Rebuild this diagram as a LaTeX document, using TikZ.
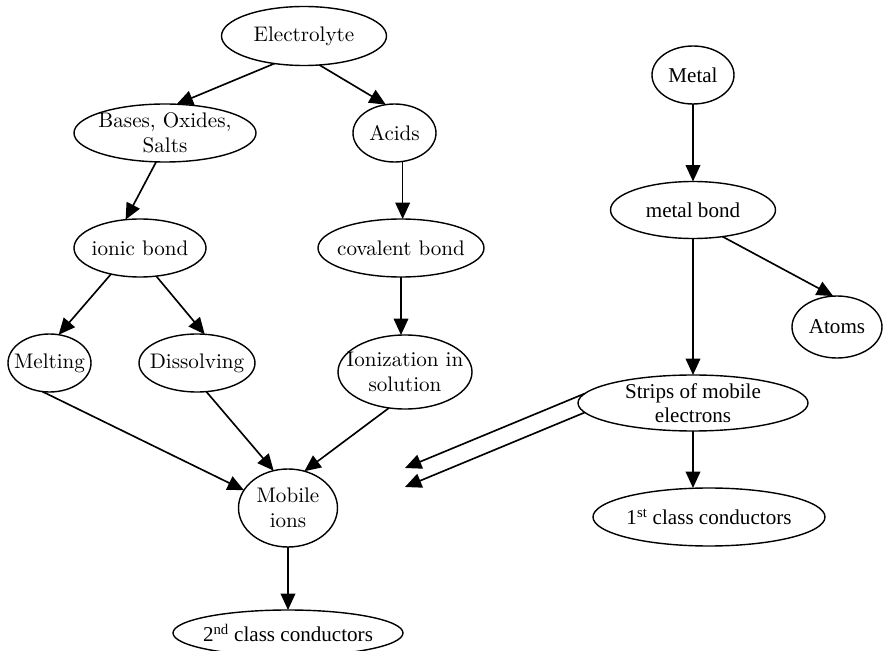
\documentclass[tikz,border=0pt]{standalone}
\usepackage{fontspec}
\setmainfont{Liberation Serif}
\newfontfamily\lmfont{lmroman10-regular.otf}
\usetikzlibrary{shapes.geometric,arrows.meta}

\tikzset{
  bub/.style 2 args={ellipse, draw, line width=1.2pt, inner sep=0pt, outer sep=0pt,
    minimum width=#1*0.03cm, minimum height=#2*0.03cm},
  lmtext/.style={font=\lmfont\fontsize{18}{21}\selectfont, align=center, inner sep=0pt},
  tmtext/.style={font=\rmfamily\fontsize{18}{20}\selectfont, align=center, inner sep=0pt},
  arr/.style={-{Triangle[length=14pt,width=12.5pt]}, line width=1.4pt},
}

\begin{document}
\begin{tikzpicture}[x=0.03cm, y=-0.03cm]
\useasboundingbox (0,0) rectangle (883,651);

% electrolyte branch
\node[bub={165}{59}, label={[lmtext]center:Electrolyte}] (elec) at (304,36) {};
\node[bub={182}{58}, label={[lmtext]center:Bases, Oxides,\\Salts}] (bases) at (165,133) {};
\node[bub={83}{58}, label={[lmtext]center:Acids}] (acids) at (394.5,133) {};
\node[bub={132}{58}, label={[lmtext]center:ionic bond}] (ionic) at (140,248) {};
\node[bub={166}{58}, label={[lmtext]center:covalent bond}] (cov) at (401,248) {};
\node[bub={83}{58}, label={[lmtext]center:Melting}] (melt) at (49.5,363) {};
\node[bub={116}{58}, label={[lmtext]center:Dissolving}] (diss) at (197,363) {};
\node[bub={134}{74}, label={[lmtext]center:Ionization in\\solution}] (ion) at (405,372) {};
\node[bub={99}{78}, label={[lmtext]center:Mobile\\ions}] (mob) at (288,508) {};
\node[bub={230}{46}, label={[tmtext]center:2\textsuperscript{nd} class conductors}] (cls2) at (288,633) {};

% metal branch
\node[bub={82}{58}, label={[tmtext]center:Metal}] (metal) at (693,75) {};
\node[bub={165}{57}, label={[tmtext]center:metal bond}] (mbond) at (693,210) {};
\node[bub={90}{62}, label={[tmtext]center:Atoms}] (atoms) at (837,327) {};
\node[bub={230}{56}, label={[tmtext]center:Strips of mobile\\electrons}] (strips) at (693,403) {};
\node[bub={232}{58}, label={[tmtext]center:1\textsuperscript{st} class conductors}] (cls1) at (709,517) {};

\coordinate (f1) at (405,468);
\coordinate (f2) at (405,487);

% connectors
\draw[arr] (elec.-137) -- (bases.68);
\draw[arr] (elec.-62) -- (acids.107);
\draw[arr] (bases.-107) -- (ionic.117);
\draw[arr] (acids.-74) -- (acids.-74 |- cov.north);
\draw[arr] (ionic.-138) -- (melt.72);
\draw[arr] (ionic.-60) -- (diss.75);
\draw[arr] (cov.south) -- (cov.south |- ion.north);
\draw[arr] (melt.-104) -- (mob.158);
\draw[arr] (diss.-72) -- (mob.111);
\draw[arr] (ion.-114) -- (mob.66);
\draw[arr] (mob.south) -- (mob.south |- cls2.north);

\draw[arr] (metal.south) -- (mbond.north);
\draw[arr] (mbond.-42) -- (atoms.97);
\draw[arr] (mbond.south) -- (mbond.south |- strips.north);
\draw[arr] (strips.175) -- (f1);
\draw[arr] (strips.-175) -- (f2);
\draw[arr] (strips.south) -- (strips.south |- cls1.north);
\end{tikzpicture}
\end{document}
